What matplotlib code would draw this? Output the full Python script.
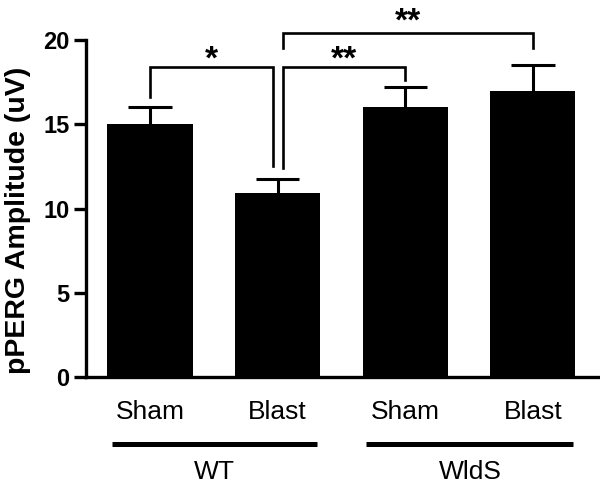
import numpy as np
import matplotlib
matplotlib.use("Agg")
import matplotlib.pyplot as plt
from matplotlib.transforms import blended_transform_factory

plt.rcParams['font.family'] = ['Liberation Sans', 'DejaVu Sans']

categories = ["Sham", "Blast", "Sham", "Blast"]
groups = ["WT", "WldS"]
amplitude = [15.0, 10.9, 16.0, 17.0]
sem = [1.0, 0.85, 1.2, 1.5]
yticks = [0, 5, 10, 15, 20]

# significance brackets: (x1, x2, bar height, left leg end, right leg end, label)
brackets = [
    (0.0, 0.96, 18.4, 16.6, 12.5, "*"),
    (1.04, 2.0, 18.4, 12.4, 17.6, "**"),
    (1.04, 3.0, 20.4, 19.5, 19.5, "**"),
]

fig = plt.figure(figsize=(6.0, 4.86), dpi=100)
ax = fig.add_axes([0.1433, 0.2243, 0.8533, 0.728])

x = np.arange(len(categories))
amp = np.array(amplitude)
top = amp + np.array(sem)
# upper error bars only
ax.vlines(x, amp, top, color='black', lw=2.2, zorder=1)
ax.hlines(top, x - 0.17, x + 0.17, color='black', lw=2.2, zorder=1)
ax.bar(x, amp, width=0.667, color='black', zorder=2)

ax.set_xlim(-0.502, 3.51)
ax.set_ylim(0, 21)
ax.spines['top'].set_visible(False)
ax.spines['right'].set_visible(False)
ax.spines['left'].set_bounds(0, 20)
ax.spines['left'].set_linewidth(2.4)
ax.spines['bottom'].set_linewidth(2.4)

ax.set_yticks(yticks)
ax.set_yticklabels([str(t) for t in yticks], fontsize=17, fontweight='bold')
ax.tick_params(axis='y', length=9, width=2.4, pad=3)
ax.set_xticks([])

for x1, x2, h, l1, l2, label in brackets:
    ax.plot([x1, x1, x2, x2], [l1, h, h, l2], color='black', lw=1.9,
            clip_on=False, solid_joinstyle='miter')
    ax.text((x1 + x2) / 2, h + 0.15 if h > 20 else h - 0.1, label, ha='center',
            va='baseline', fontsize=24, fontweight='bold', clip_on=False)

# category and group labels below the axis
tr = blended_transform_factory(ax.transData, fig.transFigure)
for xi, cat in zip(x, categories):
    ax.text(xi, 0.152, cat, transform=tr, ha='center', va='center', fontsize=19)

group_spans = [(-0.298, 1.31), (1.694, 3.318)]
for (a, b), g in zip(group_spans, groups):
    ax.plot([a, b], [0.0864, 0.0864], color='black', lw=3.6, transform=tr,
            clip_on=False, solid_capstyle='butt')
    ax.text((a + b) / 2, 0.029, g, transform=tr, ha='center', va='center',
            fontsize=19)

fig.text(18 / 600, 1 - 220 / 486, "pPERG Amplitude (uV)", rotation=90,
         ha='center', va='center', fontsize=20.5, fontweight='bold')

fig.savefig("out.png", dpi=100)
